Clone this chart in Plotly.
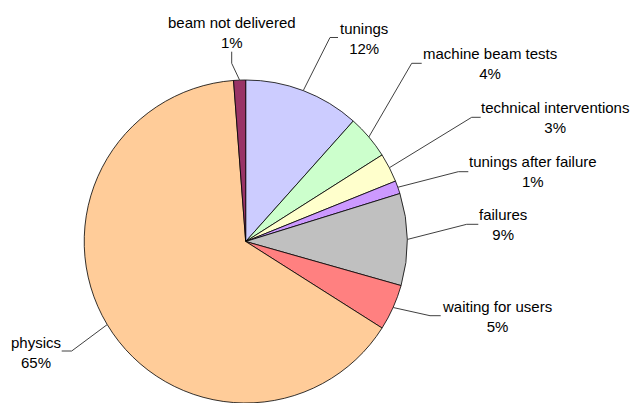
import math
import plotly.graph_objects as go

# ---- data ----
categories = ["tunings", "machine beam tests", "technical interventions",
              "tunings after failure", "failures", "waiting for users",
              "physics", "beam not delivered"]
values = [11.6, 4.4, 2.9, 1.3, 9.2, 4.6, 64.8, 1.2]
colors = ["#CCCCFF", "#CCFFCC", "#FFFFCC", "#CC99FF", "#C0C0C0", "#FF8080",
          "#FFCC99", "#993366"]

# ---- layout (pixels) ----
W, H = 631, 403
TOP = 80
CX, CY, R = 245.7, 241.5, 161.5
# label centres (px) and leader elbow/end points (px)
label_pos = [(364, 38), (490, 63.5), (554.7, 117.5), (533, 171.7),
             (503, 224.5), (496.7, 316), (36, 352), (231.5, 32)]
leader_pts = [[(330, 37.5), (338, 37.5)],
              [(411.7, 63.3), (421.7, 63.3)],
              [(471.7, 117.3), (480.7, 117.3)],
              [(458.3, 171.7), (468.3, 171.7)],
              [(466.7, 224.3), (478.3, 224.3)],
              [(430, 315.7), (440.7, 315.7)],
              [(71.7, 351), (61.7, 351)],
              [(231.7, 63.3), (231.7, 51.7)]]

PH = H - TOP


def px(x):
    return x / W


def py(y):
    return (H - y) / PH


fig = go.Figure(go.Pie(
    labels=categories, values=values, sort=False, direction="clockwise",
    rotation=0, textinfo="none", hoverinfo="label+percent",
    marker=dict(colors=colors, line=dict(color="#000000", width=0.8)),
    domain=dict(x=[(CX - R) / W, (CX + R) / W], y=[0, 1]),
    showlegend=False,
))

total = sum(values)
cum = 0.0
annotations = []
shapes = []
for cat, v, (lx, ly), pts in zip(categories, values, label_pos, leader_pts):
    mid = (cum + v / 2) / total * 2 * math.pi
    cum += v
    sx = CX + R * math.sin(mid)
    sy = CY - R * math.cos(mid)
    path_pts = [(sx, sy)] + pts
    path = "M " + " L ".join(f"{px(a):.5f},{py(b):.5f}" for a, b in path_pts)
    shapes.append(dict(type="path", path=path, xref="paper", yref="paper",
                       line=dict(color="#404040", width=1)))
    pct = round(v / total * 100)
    annotations.append(dict(x=px(lx), y=py(ly), xref="paper", yref="paper",
                            text=f"{cat}<br>{pct}%", showarrow=False,
                            xanchor="center", yanchor="middle", align="center",
                            font=dict(family="Liberation Sans, Arial", size=15,
                                      color="#000000")))

fig.update_layout(width=W, height=H, margin=dict(l=0, r=0, t=TOP, b=0),
                  paper_bgcolor="white", plot_bgcolor="white",
                  shapes=shapes, annotations=annotations)

fig.write_html("out.html", config={"displayModeBar": False},
               post_script="document.body.style.margin='0px';"
                           "document.body.style.padding='0px';")
